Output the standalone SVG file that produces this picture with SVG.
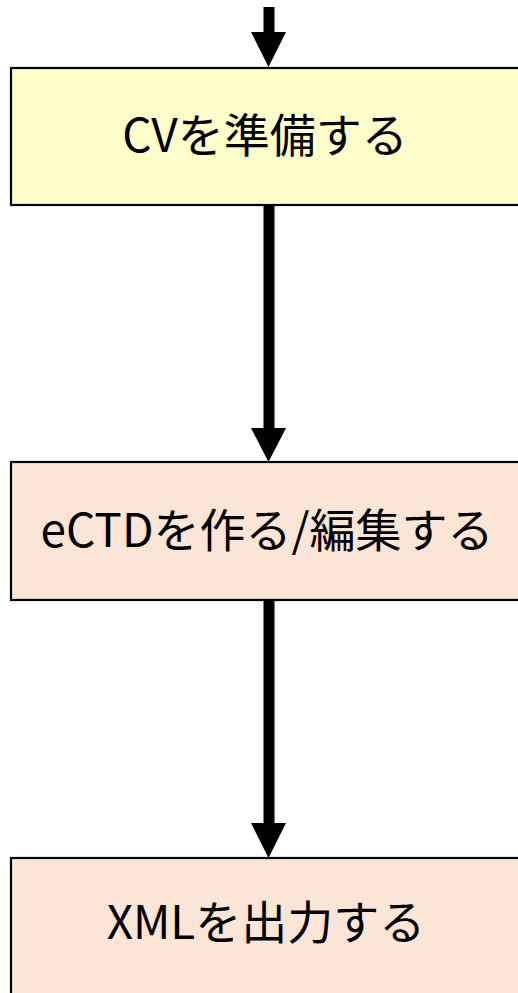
<svg xmlns="http://www.w3.org/2000/svg" width="518" height="993" viewBox="0 0 518 993">
<style>
.box{stroke:#000;stroke-width:2.2}
.lbl{font-family:"Noto Sans CJK JP","Noto Sans",sans-serif;font-size:46px;fill:#000;text-anchor:middle}
.shaft{stroke:#000;stroke-width:11;fill:none}
</style>
<rect width="518" height="993" fill="#fff"/>
<g id="connectors">
<line class="shaft" x1="269" y1="7" x2="269" y2="33"/>
<path d="M251,32 L286,32 L268.5,67 Z"/>
<line class="shaft" x1="269" y1="205" x2="269" y2="429"/>
<path d="M251,428 L286,428 L268.5,462 Z"/>
<line class="shaft" x1="269" y1="600" x2="269" y2="824"/>
<path d="M251,823 L286,823 L268.5,858 Z"/>
</g>
<g id="node1">
<rect class="box" x="11" y="68" width="520" height="137" fill="#FFFFCC"/>
<text class="lbl" x="265" y="152">CVを準備する</text>
</g>
<g id="node2">
<rect class="box" x="11" y="462" width="520" height="138" fill="#FBE5D6"/>
<text class="lbl" x="267" y="547">eCTDを作る/編集する</text>
</g>
<g id="node3">
<rect class="box" x="11" y="858" width="520" height="150" fill="#FBE5D6"/>
<text class="lbl" x="266" y="939">XMLを出力する</text>
</g>
</svg>
